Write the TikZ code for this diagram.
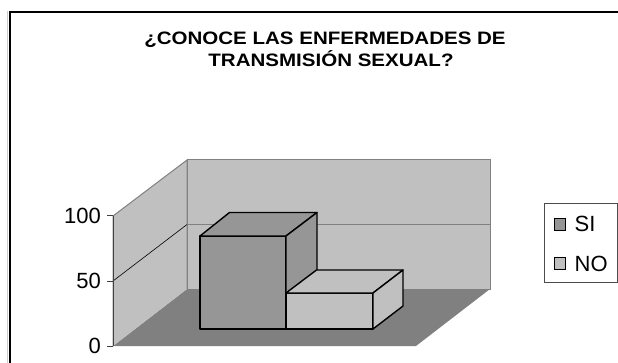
\documentclass[tikz,border=0pt]{standalone}
\usepackage{fontspec}
\setmainfont{Liberation Sans}
\newfontfamily\titlefont[FakeStretch=1.14]{Liberation Sans Bold}
\usepackage{xcolor}
\usepackage{tikz}
\usetikzlibrary{positioning}

\definecolor{wallgray}{HTML}{C0C0C0}
\definecolor{floorgray}{HTML}{808080}
\definecolor{sigray}{HTML}{969696}

\begin{document}
\begin{tikzpicture}[x=1pt,y=-1pt]
\tikzstyle{wall} = [fill=wallgray, draw=floorgray, line width=1pt]
\tikzstyle{bar} = [draw=black, line width=1.4pt, line join=round]
\tikzstyle{titleline} = [anchor=base, inner sep=0pt, font=\fontsize{18}{18}\titlefont]
\tikzstyle{axislabel} = [anchor=east, inner sep=0pt, font=\fontsize{22}{22}\selectfont]
\tikzstyle{legendtext} = [anchor=west, inner sep=0pt, font=\fontsize{22}{22}\selectfont]
\tikzstyle{marker} = [draw=black, line width=0.8pt]

\useasboundingbox (0,0) rectangle (618,363);
\fill[white] (0,0) rectangle (618,363);

% chart frame
\draw[black!20, line width=0.8pt] (7.5,11) -- (7.5,370);
\draw[line width=2pt] (10,370) -- (10,12) -- (625,12);

% title
\node (title1) [titleline] at (325,45) {¿CONOCE LAS ENFERMEDADES DE};
\node (title2) [titleline] at (331,67) {TRANSMISIÓN SEXUAL?};

% walls and floor
\fill[floorgray] (113,346) -- (187,289) -- (490,289) -- (416,346) -- cycle;
\filldraw[wall] (187,289) rectangle (490,160);
\filldraw[wall] (113,346) -- (113,216) -- (187,160) -- (187,289);
\draw[floorgray, line width=1pt] (187,224.5) -- (490,224.5);
\draw[black, line width=0.6pt] (113,281) -- (187,224.5);

% value axis
\draw[black!75, line width=1pt] (113,346) -- (113,216);
\foreach \yy in {216,281,346}
  \draw[black!75, line width=1pt] (107,\yy) -- (113,\yy);
\node (lab100) [axislabel] at (101,216) {100};
\node (lab50) [axislabel] at (101,281) {50};
\node (lab0) [axislabel] at (101,346) {0};

% bar SI
\filldraw[bar, fill=sigray] (200,329) rectangle (286,236);
\filldraw[bar, fill=sigray] (200,236) -- (229.5,212.5) -- (317,212.5) -- (286,236) -- cycle;
\filldraw[bar, fill=sigray] (286,236) -- (317,212.5) -- (317,306) -- (286,329) -- cycle;

% bar NO
\filldraw[bar, fill=wallgray] (286,329) rectangle (373,293);
\filldraw[bar, fill=wallgray] (286,293) -- (316.5,270) -- (403,270) -- (373,293) -- cycle;
\filldraw[bar, fill=wallgray] (373,293) -- (403,270) -- (403,306) -- (373,329) -- cycle;

% legend
\draw[black!70, line width=0.8pt] (544,203) rectangle (617.5,282);
\filldraw[marker, fill=sigray] (554,218.5) rectangle (565,230);
\node (legsi) [legendtext] at (574.5,224) {SI};
\filldraw[marker, fill=wallgray] (554,257.5) rectangle (565,269);
\node (legno) [legendtext] at (574.5,263.5) {NO};
\end{tikzpicture}
\end{document}
